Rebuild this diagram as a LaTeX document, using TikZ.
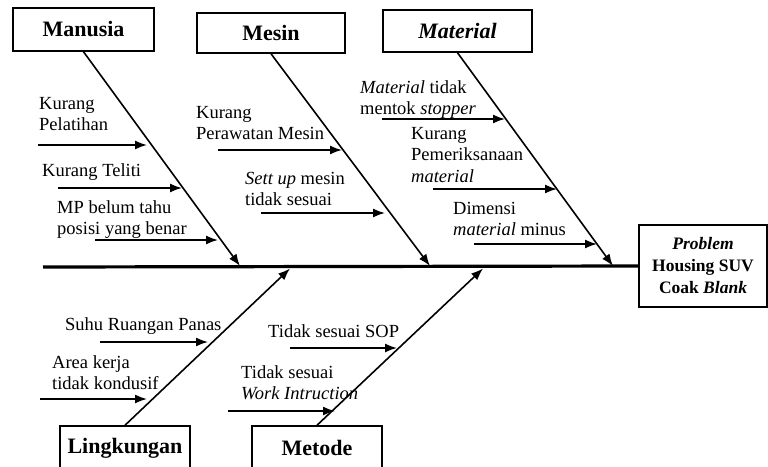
\documentclass[tikz,border=0pt]{standalone}
\usepackage{fontspec}
\setmainfont{Liberation Serif}
\usetikzlibrary{arrows.meta}
\usetikzlibrary{positioning}

\tikzset{
  category/.style={draw, line width=1.5pt, inner sep=0pt, font=\fontsize{22}{26}\selectfont\bfseries},
  effect/.style={draw, line width=1.5pt, inner sep=0pt, minimum width=128pt, minimum height=82pt, align=center, font=\fontsize{17.5}{22}\selectfont\bfseries},
  spine/.style={line width=3.2pt},
  bone/.style={line width=1.6pt, -{Latex[length=12pt,width=9pt]}},
  cause/.style={line width=1.6pt, -{Latex[length=12pt,width=9pt]}},
  reason/.style={inner sep=0pt, anchor=north west, align=left, font=\fontsize{18.5}{21.5}\selectfont},
}

\begin{document}
\begin{tikzpicture}[x=1pt,y=-1pt]
    \useasboundingbox (0,0) rectangle (768,466);

    \node[category, minimum width=141pt, minimum height=43pt] (manusia) at (83.5,29.5) {Manusia};
    \node[category, minimum width=148pt, minimum height=40pt] (mesin) at (271,33) {Mesin};
    \node[category, minimum width=149pt, minimum height=42pt] (material) at (457.5,31) {\textit{Material}};
    \node[category, minimum width=130pt, minimum height=44pt] (lingkungan) at (125,448) {Lingkungan};
    \node[category, minimum width=130pt, minimum height=44pt] (metode) at (317,448) {Metode};
    \node[effect] (problem) at (703,266) {\textit{Problem}\\Housing SUV\\Coak \textit{Blank}};

    \coordinate (tail) at (43,267);
    \coordinate (jman) at (240,266);
    \coordinate (jmes) at (430,266);
    \coordinate (jmat) at (613,266);
    \coordinate (jlin) at (290,268.5);
    \coordinate (jmet) at (483,268.5);

    \draw[spine] (tail) -- (problem.west);
    \draw[bone] (manusia.south) -- (jman);
    \draw[bone] (mesin.south) -- (jmes);
    \draw[bone] (material.south) -- (jmat);
    \draw[bone] (lingkungan.north) -- (jlin);
    \draw[bone] (metode.north) -- (jmet);

    \foreach \name/\xa/\xb/\yy in {man1/38/147/145, man2/58/182/188, man3/95/218/240,
        mes1/218/342/150, mes2/261/385/213,
        mat1/382/505/119, mat2/433/557/189, mat3/474/597/244,
        lin1/100/208/342, lin2/40/147/399,
        met1/290/397/348, met2/228/335/411}{
      \coordinate (\name a) at (\xa,\yy);
      \coordinate (\name b) at (\xb,\yy);
      \draw[cause] (\name a) -- (\name b);
    }

    \node[reason] (man1txt) at (39,97) {Kurang\\Pelatihan};
    \node[reason] (man2txt) at (42,163) {Kurang Teliti};
    \node[reason] (man3txt) at (57,200) {MP belum tahu\\posisi yang benar};
    \node[reason] (mes1txt) at (196,106) {Kurang\\Perawatan Mesin};
    \node[reason] (mes2txt) at (245,172) {\textit{Sett up} mesin\\tidak sesuai};
    \node[reason] (mat1txt) at (360,80) {\textit{Material} tidak\\mentok \textit{stopper}};
    \node[reason] (mat2txt) at (411,127) {Kurang\\Pemeriksanaan\\\textit{material}};
    \node[reason] (mat3txt) at (453,202) {Dimensi\\\textit{material} minus};
    \node[reason] (lin1txt) at (65,317) {Suhu Ruangan Panas};
    \node[reason] (lin2txt) at (52,355) {Area kerja\\tidak kondusif};
    \node[reason] (met1txt) at (268,324) {Tidak sesuai SOP};
    \node[reason] (met2txt) at (241,365) {Tidak sesuai\\\textit{Work Intruction}};
\end{tikzpicture}
\end{document}
